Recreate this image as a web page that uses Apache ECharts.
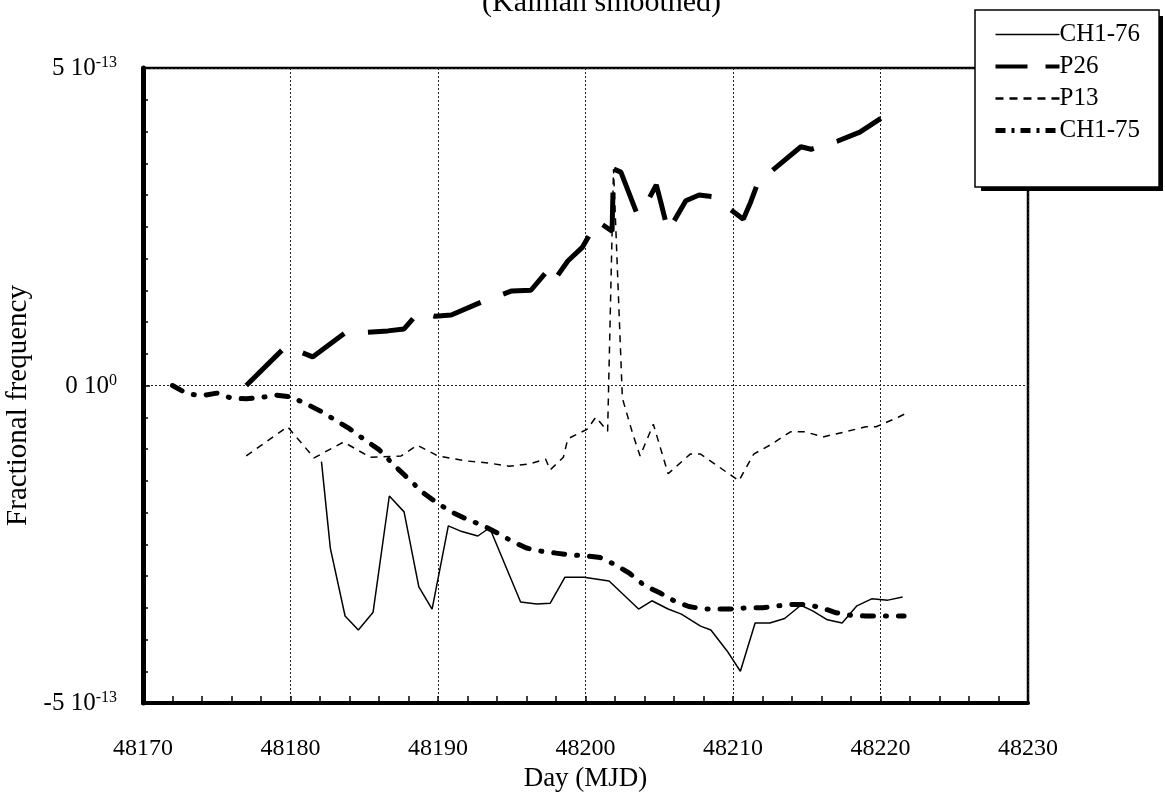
<!DOCTYPE html>
<html>
<head>
<meta charset="utf-8">
<script src="https://cdn.jsdelivr.net/npm/echarts@6/dist/echarts.min.js"></script>
<style>
html,body{margin:0;padding:0;background:#fff;}
#chart{width:1165px;height:798px;}
</style>
</head>
<body>
<div id="chart"></div>
<script>
// Values in units of 1e-13 (fractional frequency), x in MJD days
const seriesNames = ['CH1-76', 'P26', 'P13', 'CH1-75'];

const ch176Days = [48182.1, 48182.7, 48183.7, 48184.6, 48185.6, 48186.7, 48187.7, 48188.7, 48189.6, 48190.7, 48191.5, 48192.7, 48193.5, 48195.6, 48196.7, 48197.6, 48198.6, 48199.9, 48201.6, 48203.6, 48204.5, 48205.6, 48206.5, 48207.8, 48208.5, 48209.6, 48210.5, 48211.5, 48212.5, 48213.5, 48214.6, 48215.4, 48216.4, 48217.4, 48218.4, 48219.4, 48220.5, 48221.5];
const ch176Vals = [-1.20, -2.56, -3.63, -3.85, -3.57, -1.74, -1.99, -3.17, -3.52, -2.21, -2.29, -2.37, -2.24, -3.41, -3.44, -3.43, -3.02, -3.02, -3.08, -3.52, -3.39, -3.52, -3.60, -3.79, -3.85, -4.18, -4.50, -3.74, -3.74, -3.67, -3.46, -3.55, -3.69, -3.74, -3.47, -3.36, -3.38, -3.33];

const p26Days = [48177.0, 48179.7, 48181.5, 48183.7, 48184.6, 48186.6, 48187.7, 48188.7, 48189.8, 48190.9, 48192.9, 48195.0, 48196.3, 48197.4, 48197.8, 48198.8, 48199.8, 48200.8, 48201.8, 48201.9, 48202.4, 48203.5, 48204.0, 48204.8, 48205.1, 48205.6, 48206.8, 48207.7, 48208.7, 48210.7, 48211.2, 48211.7, 48214.6, 48215.3, 48217.1, 48218.6, 48220.1, 48220.9];
const p26Vals = [0.00, 0.62, 0.45, 0.83, 0.83, 0.86, 0.89, 1.16, 1.09, 1.11, 1.31, 1.49, 1.50, 1.80, 1.63, 1.96, 2.18, 2.59, 2.43, 3.41, 3.36, 2.70, 2.81, 3.16, 2.89, 2.43, 2.91, 3.00, 2.97, 2.62, 2.89, 3.20, 3.76, 3.72, 3.85, 3.99, 4.22, 4.29];

const p13Days = [48177.0, 48179.8, 48181.6, 48183.6, 48185.4, 48187.5, 48188.6, 48190.0, 48192.0, 48193.4, 48194.8, 48196.1, 48197.3, 48197.6, 48198.5, 48198.8, 48200.1, 48200.7, 48201.5, 48201.9, 48202.5, 48203.2, 48203.7, 48204.6, 48205.6, 48207.1, 48207.8, 48210.4, 48211.4, 48212.5, 48213.9, 48214.9, 48216.1, 48217.6, 48219.0, 48219.7, 48221.2, 48221.8];
const p13Vals = [-1.11, -0.65, -1.14, -0.89, -1.13, -1.11, -0.94, -1.11, -1.19, -1.22, -1.27, -1.24, -1.16, -1.33, -1.13, -0.84, -0.69, -0.50, -0.72, 3.41, -0.20, -0.76, -1.11, -0.61, -1.39, -1.08, -1.08, -1.50, -1.08, -0.94, -0.73, -0.73, -0.81, -0.73, -0.65, -0.65, -0.50, -0.43];

const ch175Days = [48172, 48173, 48174, 48175, 48176, 48177, 48178, 48179, 48180, 48181, 48182, 48183, 48184, 48185, 48186, 48187, 48188, 48189, 48190, 48191, 48192, 48193, 48194, 48195, 48196, 48197, 48198, 48199, 48200, 48201, 48202, 48203, 48204, 48205, 48206, 48207, 48208, 48209, 48210, 48211, 48212, 48213, 48214, 48215, 48216, 48217, 48218, 48219, 48220, 48221, 48221.6];
const ch175Vals = [0.00, -0.13, -0.16, -0.12, -0.20, -0.21, -0.19, -0.15, -0.18, -0.28, -0.40, -0.54, -0.68, -0.85, -1.01, -1.25, -1.47, -1.69, -1.86, -2.00, -2.11, -2.20, -2.32, -2.45, -2.56, -2.61, -2.64, -2.67, -2.68, -2.71, -2.82, -2.96, -3.15, -3.26, -3.39, -3.48, -3.52, -3.52, -3.52, -3.50, -3.50, -3.47, -3.45, -3.45, -3.50, -3.58, -3.62, -3.63, -3.63, -3.63, -3.63];

const yTickValues = [-5, 0, 5];
const yTickMantissa = ['-5 10', '0 10', '5 10'];
const yTickExponent = ['-13', '0', '-13'];

const titleText = '(Kalman smoothed)';
const xAxisName = 'Day (MJD)';
const yAxisName = 'Fractional frequency';

function zip(xs, ys) { return xs.map((x, i) => [x, ys[i]]); }

const FONT = '"Liberation Serif", "DejaVu Serif", serif';

const styles = {
  'CH1-76': {color: '#000', width: 1.5, type: 'solid'},
  'P26': {color: '#000', width: 5, type: [50, 24], cap: 'butt'},
  'P13': {color: '#000', width: 1.5, type: [7, 6]},
  'CH1-75': {color: '#000', width: 5, type: [11, 12, 1, 12], cap: 'round'}
};
const legendStyles = {
  'CH1-76': {color: '#000', width: 1.5, type: 'solid'},
  'P26': {color: '#000', width: 4, type: [32, 18], cap: 'butt'},
  'P13': {color: '#000', width: 2.5, type: [8, 6], cap: 'butt'},
  'CH1-75': {color: '#000', width: 5, type: [10, 6, 3, 6], cap: 'butt'}
};

const chart = echarts.init(document.getElementById('chart'), null, {renderer: 'canvas'});
const option = {
  backgroundColor: '#fff',
  animation: false,
  color: ['#000', '#000', '#000', '#000'],
  title: {
    text: titleText,
    left: 477,
    top: -17,
    textStyle: {fontFamily: FONT, fontSize: 30, fontWeight: 'normal', color: '#000'}
  },
  graphic: [
    { // drop shadow of the legend box
      type: 'rect', z: 1, silent: true,
      shape: {x: 981, y: 16, width: 182, height: 175},
      style: {fill: '#000'}
    }
  ],
  legend: {
    data: seriesNames.map(n => ({name: n, lineStyle: legendStyles[n], itemStyle: {opacity: 0}})),
    orient: 'vertical',
    left: 975,
    top: 10,
    z: 10,
    padding: [12, 19, 44, 18],
    itemWidth: 64,
    itemHeight: 14,
    itemGap: 7,
    backgroundColor: '#fff',
    borderColor: '#000',
    borderWidth: 1.5,
    itemStyle: {opacity: 0},
    textStyle: {fontFamily: FONT, fontSize: 25, color: '#000', padding: [0, 0, 0, -5]}
  },
  grid: {
    left: 143, right: 137, top: 68, bottom: 95,
    outerBoundsMode: 'none',
    containLabel: false,
    show: true, borderColor: '#000', borderWidth: 2.5, backgroundColor: 'transparent'
  },
  xAxis: {
    type: 'value',
    min: 48170, max: 48230, interval: 10,
    name: xAxisName,
    nameLocation: 'middle',
    nameGap: 52,
    nameTextStyle: {fontFamily: FONT, fontSize: 27, color: '#000'},
    axisLine: {show: true, onZero: false, lineStyle: {color: '#000', width: 4}},
    axisTick: {show: true, inside: true, length: 7, lineStyle: {color: '#000', width: 1.5}},
    minorTick: {show: true, splitNumber: 5, length: 7, lineStyle: {color: '#000', width: 1.5}},
    axisLabel: {fontFamily: FONT, fontSize: 24, color: '#000', margin: 34,
      formatter: v => String(v)},
    splitLine: {show: true, lineStyle: {color: '#222', width: 1, type: [2, 2]}}
  },
  yAxis: {
    type: 'value',
    min: -5, max: 5, interval: 5,
    name: yAxisName,
    nameLocation: 'middle',
    nameGap: 100,
    nameRotate: 90,
    nameTextStyle: {fontFamily: FONT, fontSize: 29, color: '#000', padding: [0, 40, 0, 0]},
    axisLine: {show: true, onZero: false, lineStyle: {color: '#000', width: 5}},
    axisTick: {show: true, inside: true, length: 7, lineStyle: {color: '#000', width: 1.5}},
    minorTick: {show: true, splitNumber: 10, length: 5, lineStyle: {color: '#000', width: 1.5}},
    axisLabel: {
      margin: 26,
      formatter: function (v) {
        const i = yTickValues.indexOf(v);
        if (i < 0) return '';
        return '{m|' + yTickMantissa[i] + '}{e|' + yTickExponent[i] + '}';
      },
      rich: {
        m: {fontFamily: FONT, fontSize: 25, color: '#000', verticalAlign: 'bottom', lineHeight: 26},
        e: {fontFamily: FONT, fontSize: 16, color: '#000', verticalAlign: 'bottom', lineHeight: 26, padding: [0, 0, 10, 0]}
      }
    },
    splitLine: {show: true, lineStyle: {color: '#222', width: 1, type: [2, 2]}}
  },
  series: [
    {
      name: 'CH1-76', type: 'line', symbol: 'none', z: 3,
      data: zip(ch176Days, ch176Vals),
      itemStyle: {color: '#000'},
      lineStyle: styles['CH1-76']
    },
    {
      name: 'P26', type: 'line', symbol: 'none', z: 4,
      data: zip(p26Days, p26Vals),
      itemStyle: {color: '#000'},
      lineStyle: styles['P26']
    },
    {
      name: 'P13', type: 'line', symbol: 'none', z: 3,
      data: zip(p13Days, p13Vals),
      itemStyle: {color: '#000'},
      lineStyle: styles['P13']
    },
    {
      name: 'CH1-75', type: 'line', symbol: 'none', z: 4,
      data: zip(ch175Days, ch175Vals),
      itemStyle: {color: '#000'},
      lineStyle: styles['CH1-75']
    }
  ]
};
chart.setOption(option);
</script>
</body>
</html>
